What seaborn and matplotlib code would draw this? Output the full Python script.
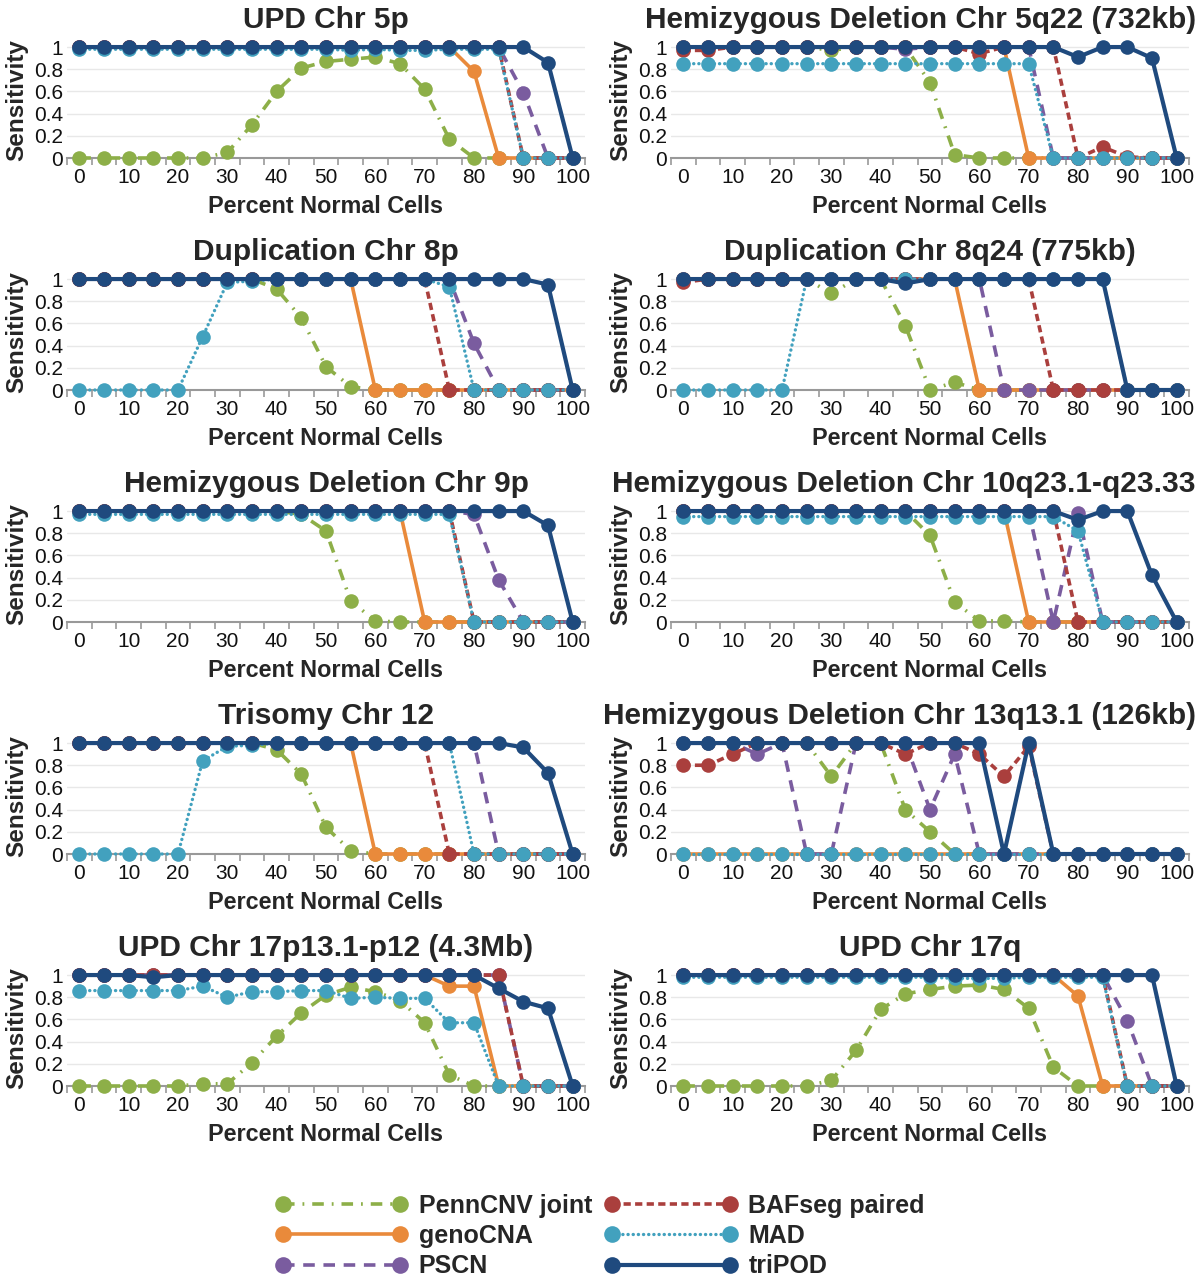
import numpy as np
import matplotlib
matplotlib.use("Agg")
import matplotlib.pyplot as plt
from matplotlib.lines import Line2D
import seaborn as sns

# percent normal cells (x categories)
pct = [0, 5, 10, 15, 20, 25, 30, 35, 40, 45, 50, 55, 60, 65, 70, 75, 80, 85, 90, 95, 100]

methods = ["PennCNV joint", "genoCNA", "PSCN", "BAFseg paired", "MAD", "triPOD"]

titles = ["UPD Chr 5p", "Hemizygous Deletion Chr 5q22 (732kb)",
          "Duplication Chr 8p", "Duplication Chr 8q24 (775kb)",
          "Hemizygous Deletion Chr 9p", "Hemizygous Deletion Chr 10q23.1-q23.33",
          "Trisomy Chr 12", "Hemizygous Deletion Chr 13q13.1 (126kb)",
          "UPD Chr 17p13.1-p12 (4.3Mb)", "UPD Chr 17q"]

# sensitivity per method, one dict per panel
upd_5p = {
    "PennCNV joint": [0, 0, 0, 0, 0, 0, 0.05, 0.3, 0.6, 0.81, 0.87, 0.89, 0.91, 0.85, 0.62, 0.17, 0, 0, 0, 0, 0],
    "genoCNA":       [1, 1, 1, 1, 1, 1, 1, 1, 1, 1, 1, 1, 1, 1, 1, 1, 0.78, 0, 0, 0, 0],
    "PSCN":          [1, 1, 1, 1, 1, 1, 1, 1, 1, 1, 1, 1, 1, 1, 1, 1, 1, 1, 0.59, 0, 0],
    "BAFseg paired": [1, 1, 1, 1, 1, 1, 1, 1, 1, 1, 1, 1, 1, 1, 1, 1, 1, 1, 0, 0, 0],
    "MAD":           [0.98, 0.98, 0.98, 0.98, 0.98, 0.98, 0.98, 0.98, 0.98, 0.98, 0.98, 0.97, 0.98, 0.97, 0.97, 0.98, 0.98, 0.98, 0, 0, 0],
    "triPOD":        [1, 1, 1, 1, 1, 1, 1, 1, 1, 1, 1, 1, 1, 1, 1, 1, 1, 1, 1, 0.86, 0],
}
hemi_5q22 = {
    "PennCNV joint": [1, 1, 1, 1, 1, 1, 0.97, 1, 1, 1, 0.68, 0.03, 0, 0, 0, 0, 0, 0, 0, 0, 0],
    "genoCNA":       [1, 1, 1, 1, 1, 1, 1, 1, 1, 1, 1, 1, 1, 1, 0, 0, 0, 0, 0, 0, 0],
    "PSCN":          [1, 1, 1, 1, 1, 1, 1, 1, 1, 0.98, 1, 1, 1, 1, 1, 0, 0, 0, 0, 0, 0],
    "BAFseg paired": [0.97, 0.97, 1, 1, 1, 1, 1, 1, 1, 1, 1, 1, 0.94, 1, 1, 1, 0, 0.1, 0.01, 0, 0],
    "MAD":           [0.85, 0.85, 0.85, 0.85, 0.85, 0.85, 0.85, 0.85, 0.85, 0.85, 0.85, 0.85, 0.85, 0.85, 0.85, 0, 0, 0, 0, 0, 0],
    "triPOD":        [1, 1, 1, 1, 1, 1, 1, 1, 1, 1, 1, 1, 1, 1, 1, 1, 0.91, 1, 1, 0.9, 0],
}
dup_8p = {
    "PennCNV joint": [1, 1, 1, 1, 1, 1, 1, 1, 0.91, 0.65, 0.21, 0.03, 0, 0, 0, 0, 0, 0, 0, 0, 0],
    "genoCNA":       [1, 1, 1, 1, 1, 1, 1, 1, 1, 1, 1, 1, 0, 0, 0, 0, 0, 0, 0, 0, 0],
    "PSCN":          [1, 1, 1, 1, 1, 1, 1, 1, 1, 1, 1, 1, 1, 1, 1, 1, 0.42, 0, 0, 0, 0],
    "BAFseg paired": [1, 1, 1, 1, 1, 1, 1, 1, 1, 1, 1, 1, 1, 1, 1, 0, 0, 0, 0, 0, 0],
    "MAD":           [0, 0, 0, 0, 0, 0.48, 0.97, 0.98, 1, 1, 1, 1, 1, 1, 1, 0.93, 0, 0, 0, 0, 0],
    "triPOD":        [1, 1, 1, 1, 1, 1, 1, 1, 1, 1, 1, 1, 1, 1, 1, 1, 1, 1, 1, 0.95, 0],
}
dup_8q24 = {
    "PennCNV joint": [1, 1, 1, 1, 1, 1, 0.87, 1, 1, 0.58, 0, 0.07, 0, 0, 0, 0, 0, 0, 0, 0, 0],
    "genoCNA":       [1, 1, 1, 1, 1, 1, 1, 1, 1, 1, 1, 1, 0, 0, 0, 0, 0, 0, 0, 0, 0],
    "PSCN":          [1, 1, 1, 1, 1, 1, 1, 1, 1, 1, 1, 1, 1, 0, 0, 0, 0, 0, 0, 0, 0],
    "BAFseg paired": [0.97, 1, 1, 1, 1, 1, 1, 1, 1, 1, 1, 1, 1, 1, 1, 0, 0, 0, 0, 0, 0],
    "MAD":           [0, 0, 0, 0, 0, 1, 1, 1, 1, 1, 1, 1, 1, 1, 1, 1, 1, 1, 0, 0, 0],
    "triPOD":        [1, 1, 1, 1, 1, 1, 1, 1, 1, 0.96, 1, 1, 1, 1, 1, 1, 1, 1, 0, 0, 0],
}
hemi_9p = {
    "PennCNV joint": [1, 1, 1, 1, 1, 1, 1, 1, 1, 0.97, 0.82, 0.19, 0.01, 0, 0, 0, 0, 0, 0, 0, 0],
    "genoCNA":       [1, 1, 1, 1, 1, 1, 1, 1, 1, 1, 1, 1, 1, 1, 0, 0, 0, 0, 0, 0, 0],
    "PSCN":          [1, 1, 1, 1, 1, 1, 1, 1, 1, 1, 1, 1, 1, 1, 1, 1, 0.97, 0.38, 0, 0, 0],
    "BAFseg paired": [1, 1, 1, 1, 1, 1, 1, 1, 1, 1, 1, 1, 1, 1, 1, 1, 0, 0, 0, 0, 0],
    "MAD":           [0.97, 0.97, 0.97, 0.97, 0.97, 0.97, 0.97, 0.97, 0.97, 0.97, 0.97, 0.97, 0.97, 0.97, 0.97, 0.97, 0, 0, 0, 0, 0],
    "triPOD":        [1, 1, 1, 1, 1, 1, 1, 1, 1, 1, 1, 1, 1, 1, 1, 1, 1, 1, 1, 0.87, 0],
}
hemi_10q23 = {
    "PennCNV joint": [1, 1, 1, 1, 1, 1, 1, 1, 1, 1, 0.78, 0.18, 0.01, 0.01, 0, 0, 0, 0, 0, 0, 0],
    "genoCNA":       [1, 1, 1, 1, 1, 1, 1, 1, 1, 1, 1, 1, 1, 1, 0, 0, 0, 0, 0, 0, 0],
    "PSCN":          [1, 1, 1, 1, 1, 1, 1, 1, 1, 1, 1, 1, 1, 1, 1, 0, 0.98, 0, 0, 0, 0],
    "BAFseg paired": [1, 1, 1, 1, 1, 1, 1, 1, 1, 1, 1, 1, 1, 1, 1, 1, 0, 0, 0, 0, 0],
    "MAD":           [0.95, 0.95, 0.95, 0.95, 0.95, 0.95, 0.95, 0.95, 0.95, 0.95, 0.95, 0.95, 0.95, 0.95, 0.95, 0.95, 0.82, 0, 0, 0, 0],
    "triPOD":        [1, 1, 1, 1, 1, 1, 1, 1, 1, 1, 1, 1, 1, 1, 1, 1, 0.92, 1, 1, 0.42, 0],
}
trisomy_12 = {
    "PennCNV joint": [1, 1, 1, 1, 1, 1, 1, 1, 0.94, 0.72, 0.24, 0.03, 0, 0, 0, 0, 0, 0, 0, 0, 0],
    "genoCNA":       [1, 1, 1, 1, 1, 1, 1, 1, 1, 1, 1, 1, 0, 0, 0, 0, 0, 0, 0, 0, 0],
    "PSCN":          [1, 1, 1, 1, 1, 1, 1, 1, 1, 1, 1, 1, 1, 1, 1, 1, 1, 0, 0, 0, 0],
    "BAFseg paired": [1, 1, 1, 1, 1, 1, 1, 1, 1, 1, 1, 1, 1, 1, 1, 0, 0, 0, 0, 0, 0],
    "MAD":           [0, 0, 0, 0, 0, 0.84, 0.97, 0.98, 1, 1, 1, 1, 1, 1, 1, 1, 0, 0, 0, 0, 0],
    "triPOD":        [1, 1, 1, 1, 1, 1, 1, 1, 1, 1, 1, 1, 1, 1, 1, 1, 1, 1, 0.96, 0.73, 0],
}
hemi_13q13 = {
    "PennCNV joint": [1, 1, 1, 1, 1, 1, 0.7, 1, 1, 0.4, 0.2, 0, 0, 0, 0, 0, 0, 0, 0, 0, 0],
    "genoCNA":       [0, 0, 0, 0, 0, 0, 0, 0, 0, 0, 0, 0, 0, 0, 0, 0, 0, 0, 0, 0, 0],
    "PSCN":          [1, 1, 1, 0.9, 1, 0, 0, 1, 1, 1, 0.4, 0.9, 0, 0, 0, 0, 0, 0, 0, 0, 0],
    "BAFseg paired": [0.8, 0.8, 0.9, 1, 1, 1, 1, 1, 1, 0.9, 1, 1, 0.9, 0.7, 0.97, 0, 0, 0, 0, 0, 0],
    "MAD":           [0, 0, 0, 0, 0, 0, 0, 0, 0, 0, 0, 0, 0, 0, 0, 0, 0, 0, 0, 0, 0],
    "triPOD":        [1, 1, 1, 1, 1, 1, 1, 1, 1, 1, 1, 1, 1, 0, 1, 0, 0, 0, 0, 0, 0],
}
upd_17p13 = {
    "PennCNV joint": [0, 0, 0, 0, 0, 0.02, 0.02, 0.21, 0.45, 0.66, 0.82, 0.89, 0.85, 0.77, 0.57, 0.1, 0, 0, 0, 0, 0],
    "genoCNA":       [1, 1, 1, 1, 1, 1, 1, 1, 1, 1, 1, 1, 1, 1, 1, 0.9, 0.9, 0, 0, 0, 0],
    "PSCN":          [1, 1, 1, 1, 1, 1, 1, 1, 1, 1, 1, 1, 1, 1, 1, 1, 1, 1, 0, 0, 0],
    "BAFseg paired": [1, 1, 1, 1, 1, 1, 1, 1, 1, 1, 1, 1, 1, 1, 1, 1, 1, 1, 0, 0, 0],
    "MAD":           [0.86, 0.86, 0.86, 0.86, 0.86, 0.9, 0.8, 0.85, 0.85, 0.86, 0.86, 0.79, 0.8, 0.79, 0.79, 0.57, 0.57, 0, 0, 0, 0],
    "triPOD":        [1, 1, 1, 0.98, 1, 1, 1, 1, 1, 1, 1, 1, 1, 1, 1, 1, 1, 0.88, 0.76, 0.7, 0],
}
upd_17q = {
    "PennCNV joint": [0, 0, 0, 0, 0, 0, 0.05, 0.32, 0.69, 0.83, 0.87, 0.9, 0.91, 0.87, 0.7, 0.17, 0, 0, 0, 0, 0],
    "genoCNA":       [1, 1, 1, 1, 1, 1, 1, 1, 1, 1, 1, 1, 1, 1, 1, 1, 0.81, 0, 0, 0, 0],
    "PSCN":          [1, 1, 1, 1, 1, 1, 1, 1, 1, 1, 1, 1, 1, 1, 1, 1, 1, 1, 0.59, 0, 0],
    "BAFseg paired": [1, 1, 1, 1, 1, 1, 1, 1, 1, 1, 1, 1, 1, 1, 1, 1, 1, 1, 0, 0, 0],
    "MAD":           [0.98, 0.98, 0.98, 0.98, 0.98, 0.98, 0.98, 0.98, 0.98, 0.98, 0.98, 0.97, 0.97, 0.97, 0.98, 0.98, 0.98, 0.98, 0, 0, 0],
    "triPOD":        [1, 1, 1, 1, 1, 1, 1, 1, 1, 1, 1, 1, 1, 1, 1, 1, 1, 1, 1, 1, 0],
}

panels = [upd_5p, hemi_5q22, dup_8p, dup_8q24, hemi_9p, hemi_10q23,
          trisomy_12, hemi_13q13, upd_17p13, upd_17q]

colors = {"PennCNV joint": "#8DAF48", "genoCNA": "#E98A3B", "PSCN": "#7A5C9F",
          "BAFseg paired": "#AA3F3D", "MAD": "#42A1BE", "triPOD": "#1F4A7E"}
styles = {"PennCNV joint": dict(linestyle=(0, (3.2, 2.2, 0.5, 2.2)), lw=2.6),
          "genoCNA": dict(linestyle="-", lw=2.6),
          "PSCN": dict(linestyle=(0, (3.2, 2.4)), lw=2.6),
          "BAFseg paired": dict(linestyle=(0, (2.0, 1.2)), lw=2.6),
          "MAD": dict(linestyle=(0, (0.05, 1.5)), lw=2.4, dash_capstyle="round"),
          "triPOD": dict(linestyle="-", lw=3.0)}

sns.set_theme(style="white")
plt.rcParams['font.family'] = ['Liberation Sans', 'DejaVu Sans']

W, H = 1200, 1281
AX_W = 518
fig = plt.figure(figsize=(W / 100, H / 100), dpi=100)

axes = []
for i, (title, panel) in enumerate(zip(titles, panels)):
    row, col = divmod(i, 2)
    left = 67 if col == 0 else 671
    base = 158 + 232 * row          # pixel row of sensitivity 0
    top = base - 116.5
    ax = fig.add_axes([left / W, 1 - base / H, AX_W / W, (base - top) / H])
    for z, m in enumerate(methods):
        sns.lineplot(x=pct, y=panel[m], ax=ax, color=colors[m], marker="o",
                     markersize=10.5, mew=0, clip_on=False, zorder=3 + z,
                     errorbar=None, estimator=None, **styles[m])
    ax.set_xlim(-2.5, 102.5)
    ax.set_ylim(0, 1.05)
    ax.set_xticks(range(0, 101, 10))
    ax.set_xticks(np.arange(-2.5, 103, 5), minor=True)
    ax.set_yticks([0, 0.2, 0.4, 0.6, 0.8, 1.0])
    ax.set_yticklabels(["0", "0.2", "0.4", "0.6", "0.8", "1"])
    ax.tick_params(axis="x", which="major", length=0, labelsize=15, pad=7, colors="#111111")
    ax.tick_params(axis="x", which="minor", bottom=True, length=5, width=1.2, color="#999999")
    ax.tick_params(axis="y", length=0, labelsize=15, pad=3, colors="#111111")
    ax.yaxis.grid(True, color="#e8e8e8", lw=1)
    ax.set_axisbelow(True)
    for s in ["left", "top", "right"]:
        ax.spines[s].set_visible(False)
    ax.spines["bottom"].set_color("#999999")
    ax.spines["bottom"].set_linewidth(1.5)
    ax.set_title(title, fontsize=21.5, fontweight="bold", pad=10)
    ax.set_xlabel("Percent Normal Cells", fontsize=16.8, fontweight="bold", labelpad=6)
    ax.set_ylabel("Sensitivity", fontsize=17.5, fontweight="bold", labelpad=4)
    axes.append(ax)

handles = [Line2D([0], [0], color=colors[m], marker="o", markersize=12, mew=0, **styles[m])
           for m in methods]
fig.legend(handles, methods, loc="center", bbox_to_anchor=(0.5, 1 - 1236 / H),
           ncol=2, frameon=False, numpoints=2, handlelength=5.3,
           prop={"size": 18, "weight": "bold"}, labelspacing=0.25,
           columnspacing=0.5, handletextpad=0.45)

# keep long titles inside the right edge, as in the original layout
fig.canvas.draw()
renderer = fig.canvas.get_renderer()
for ax in axes:
    bb = ax.title.get_window_extent(renderer)
    over = bb.x1 - (W - 4)
    if over > 0:
        ax.title.set_x(0.5 - over / AX_W)

fig.savefig("out.png", dpi=100)
